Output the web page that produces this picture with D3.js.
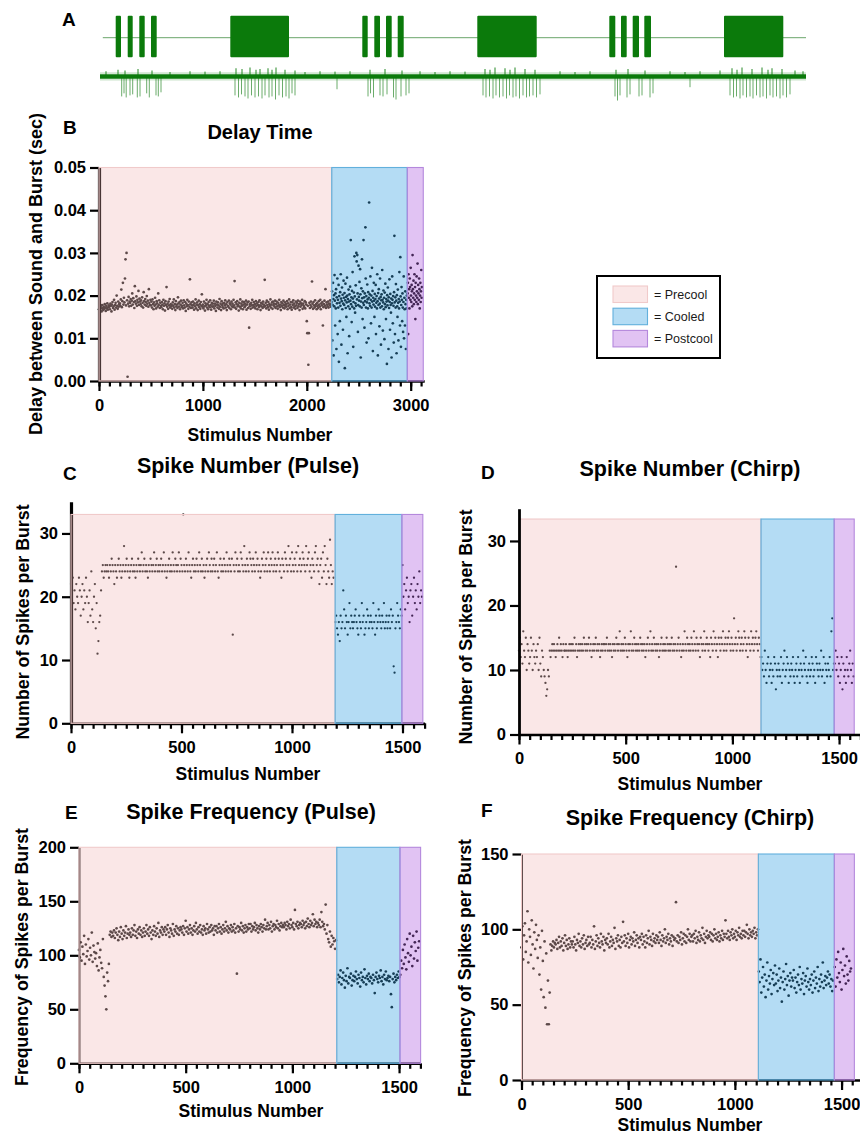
<!DOCTYPE html>
<html>
<head>
<meta charset="utf-8">
<script src="https://cdn.jsdelivr.net/npm/d3@7"></script>
<style>
  body { margin: 0; background: #fff; }
  svg { display: block; }
  text { font-family: "Liberation Sans", Arial, Helvetica, sans-serif; }
</style>
</head>
<body>
<svg id="fig" width="860" height="1137"></svg>
<script>
// ---------- Panel A: stimulus and recording trace (time in ms) ----------
const traceDuration = [0, 7060];
const pulseTrains = [
  [[157, 210], [277, 327], [393, 447], [510, 567]],
  [[2623, 2677], [2743, 2800], [2860, 2917], [2977, 3037]],
  [[5093, 5153], [5210, 5267], [5327, 5390], [5443, 5510]]
];
const chirpBlocks = [[1303, 1890], [3773, 4367], [6240, 6833]];
// spike events: [time ms, relative amplitude]
const spikeEvents = [
  [217,.85],[240,.7],[262,.9],[300,.8],[327,.75],[373,.9],[400,.85],[467,.7],[493,.9],[560,.8],[583,.85],[610,.65],
  [1350,.8],[1385,.9],[1415,.75],[1450,.85],[1480,.95],[1515,.8],[1550,.9],[1585,.85],[1620,.95],[1650,.8],[1690,.9],[1720,.85],[1755,1],[1790,.8],[1825,.9],[1860,.85],[1890,.95],[1920,.7],[1950,.8],
  [2370,.5],
  [2680,.85],[2705,.7],[2735,.9],[2800,.8],[2830,.85],[2870,.75],[2935,.9],[2960,1],[3010,.85],[3060,.8],[3090,.7],
  [3830,.8],[3860,.9],[3895,.85],[3930,.95],[3960,.8],[3995,.9],[4030,.85],[4065,.95],[4095,.8],[4130,.9],[4160,.85],[4195,.95],[4230,.8],[4265,.9],[4295,.85],[4330,.8],[4365,.9],[4400,.75],
  [5150,.85],[5175,1.05],[5200,.8],[5270,.9],[5300,.75],[5390,.85],[5420,.8],[5500,.9],[5530,.7],
  [5900,.4],
  [6300,.8],[6335,.9],[6365,.85],[6400,.95],[6430,.8],[6465,.9],[6500,.85],[6530,.95],[6565,.8],[6600,.9],[6630,.85],[6665,.95],[6700,.8],[6730,.9],[6765,.85],[6800,.95],[6830,.8],[6865,.9],[6900,.75]
];
// small upward deflections of the recording: [time ms, relative amplitude]
const noiseBumps = [
  [60,.3],[180,.5],[250,.4],[380,.6],[520,.4],[700,.2],[900,.3],[1050,.25],[1200,.3],[1360,.7],[1420,.6],[1500,.8],[1560,.5],[1600,.6],[1680,.7],[1720,.5],[1760,.8],[1850,.5],[1950,.4],
  [2050,.2],[2200,.3],[2350,.25],[2500,.3],[2700,.5],[2850,.6],[3020,.4],[3200,.3],[3350,.2],[3500,.3],[3650,.25],[3850,.6],[3900,.5],[3950,.8],[4050,.7],[4100,.5],[4150,.8],[4250,.6],[4350,.5],[4600,.3],
  [4750,.2],[4900,.3],[5160,.5],[5280,.6],[5450,.4],[5700,.3],[5850,.2],[6000,.3],[6200,.4],[6320,.7],[6370,.5],[6420,.8],[6520,.6],[6620,.8],[6680,.5],[6720,.7],[6820,.6],[6950,.4],[7030,.3]
];

// ---------- Panel B: delay between sound and burst (units of 0.1 ms) ----------
const bPhases = [[0, 2240], [2240, 2967], [2967, 3121]];
const bYTicks = [0, 0.01, 0.02, 0.03, 0.04, 0.05];
const bXTicks = [0, 1000, 2000, 3000];
const bPrecool = [ // stimulus 0..2235, every 5th
  168,172,165,175,170,163,178,171,166,174,169,180,172,164,176,170,182,167,173,177,
  174,168,181,176,163,179,185,171,175,190,167,178,183,172,200,176,169,186,174,180,
  182,176,191,214,173,187,230,179,195,184,240,285,177,300,189,10,181,197,175,186,
  183,192,176,188,205,179,194,185,171,222,187,181,198,176,190,184,211,178,193,186,
  180,189,175,196,183,172,208,187,179,192,185,176,199,181,188,174,215,183,178,190,
  177,186,172,191,180,168,184,176,195,179,170,187,182,174,205,178,189,171,183,176,
  173,185,179,168,190,176,182,165,187,178,220,174,181,169,186,177,192,172,180,175,
  178,169,184,176,191,172,180,166,187,175,179,171,196,182,174,185,168,179,188,173,
  176,183,170,189,177,172,185,164,181,175,190,178,169,186,174,238,180,171,184,177,
  172,186,178,167,182,175,191,170,179,184,166,177,188,173,180,169,185,176,203,174,
  179,170,186,175,165,182,177,190,172,180,168,185,176,173,189,178,167,183,174,181,
  175,188,170,181,176,164,186,179,172,184,177,169,192,174,181,166,187,178,173,182,
  170,183,177,189,172,180,166,185,176,174,188,171,182,179,168,186,175,181,173,190,
  177,234,172,184,169,180,187,175,178,165,183,174,191,170,181,176,186,168,179,185,
  173,181,176,188,167,179,184,171,186,125,175,180,169,183,177,190,172,178,185,174,
  180,170,187,176,182,168,178,185,173,189,177,166,183,175,181,171,186,179,174,237,
  176,183,170,188,178,173,185,167,180,176,191,172,179,184,169,186,177,181,174,188,
  171,180,186,175,169,183,177,190,173,179,166,185,176,182,172,188,178,170,184,175,
  180,174,187,168,182,176,191,171,179,185,173,167,184,178,189,172,181,175,169,186,
  177,183,171,188,175,180,166,186,174,182,178,190,169,181,176,173,187,170,184,179,
  140,112,176,38,112,183,171,178,186,174,233,181,169,185,177,172,189,175,180,168,
  183,176,171,187,179,174,190,168,182,177,185,130,173,180,188,176,215,171,184,179,
  175,186,172,181,178,189,174,180
];
const bCooled = [ // stimulus 2240..2963, every 3rd
  185,210,95,178,230,192,60,201,175,248,188,130,205,170,215,75,196,182,240,110,
  190,172,225,45,199,183,140,208,176,250,193,85,187,219,168,202,120,181,235,195,
  178,206,30,189,228,171,197,150,184,242,200,65,192,175,214,186,105,203,169,221,
  188,330,180,196,138,211,174,255,193,80,185,207,170,292,198,160,182,224,176,300,
  280,191,295,205,115,178,270,197,188,232,175,262,203,55,186,217,172,285,194,145,
  210,183,330,178,196,125,205,187,360,240,172,199,90,184,226,191,170,208,100,195,
  418,182,203,176,245,190,135,200,172,265,186,211,70,195,179,230,188,150,204,174,
  192,225,110,183,199,170,250,187,60,206,178,215,193,128,181,240,172,197,85,189,
  203,175,260,190,118,184,212,168,195,98,207,180,228,173,145,192,186,40,201,177,
  219,188,75,196,171,238,185,120,204,178,160,193,55,182,245,190,135,199,176,90,
  208,340,184,110,196,172,227,188,65,201,175,150,214,183,95,192,170,255,186,130,
  290,198,80,178,220,190,140,205,172,115,185,245,100,195,168,130,210,180,75,190,
  170,200
];
const bPostcool = [ // stimulus 2970..3108, every 3rd
  205,230,110,250,195,215,170,240,220,190,265,200,185,225,210,175,295,215,195,235,
  180,205,250,190,220,145,230,200,185,245,210,195,275,180,225,205,190,240,215,170,
  200,230,185,210,260,195,220
];

// ---------- Panel C: spikes per burst, pulse ----------
const cPhases = [[0, 1195], [1195, 1497], [1497, 1592]];
const cYTicks = [0, 10, 20, 30];
const cPrecool = [ // stimulus 0..1188, every 4th
  22,20,23,19,21,18,22,20,19,23,21,17,20,22,18,21,19,23,20,16,
  19,21,17,24,18,16,20,22,15,19,11,13,16,17,21,24,25,23,24,25,
  24,25,24,23,25,24,26,25,24,22,25,24,23,25,26,24,25,23,24,25,
  28,24,25,26,24,25,23,24,25,26,24,25,24,23,25,24,26,25,24,25,
  27,24,25,26,24,25,24,23,25,24,26,25,24,25,27,24,25,26,24,25,
  24,25,26,24,25,27,24,25,23,24,25,26,24,25,24,27,25,24,26,25,
  24,25,27,24,26,25,24,33,25,24,26,25,24,27,25,24,23,25,26,24,
  25,24,26,25,24,27,25,24,26,24,25,23,24,25,26,24,27,25,24,26,
  24,25,26,24,25,27,24,23,25,26,24,25,24,26,25,24,27,25,24,26,
  25,24,26,14,25,24,27,25,26,24,25,24,27,26,25,24,28,25,24,26,
  25,24,27,26,25,24,26,25,24,27,25,26,24,25,23,24,26,25,27,24,
  25,26,24,27,25,24,26,25,27,24,25,26,24,25,27,26,24,25,23,26,
  25,24,27,26,25,24,28,25,26,24,27,25,24,26,25,27,24,28,25,26,
  24,25,27,26,25,24,28,25,26,27,24,25,23,26,25,24,27,28,25,26,
  24,22,25,26,23,27,24,28,25,22,26,24,23,29,25,22,24,23
];
const cCooled = [ // stimulus 1196..1496, every 4th
  16,17,15,14,16,13,17,15,16,21,18,15,17,16,14,16,19,15,17,16,
  15,16,17,18,16,15,14,17,16,15,19,16,17,14,15,16,18,17,15,16,
  17,16,15,19,16,14,17,15,16,18,17,16,15,17,16,19,15,16,17,15,
  16,17,15,18,16,17,9,8,15,16,19,17,16,15,18,17
];
const cPostcool = [ // stimulus 1500..1588, every 4th
  25,20,22,18,21,23,19,20,16,21,22,17,20,23,19,21,18,22,20,24,19,21,20
];

// ---------- Panel D: spikes per burst, chirp ----------
const dPhases = [[0, 1134], [1134, 1477], [1477, 1571]];
const dPrecool = [ // stimulus 0..1132, every 4th
  13,15,12,14,11,16,13,12,15,10,14,13,11,12,15,13,10,14,12,11,
  13,12,14,10,15,11,9,13,12,10,9,8,6,7,10,9,13,12,13,14,
  13,14,13,12,13,14,13,15,13,14,13,12,14,13,13,14,13,12,13,14,
  13,14,13,14,13,15,13,14,12,13,14,13,14,13,14,13,15,14,13,14,
  13,14,15,13,14,12,13,14,13,14,15,13,14,13,14,12,13,14,13,14,
  14,13,14,15,13,14,13,14,13,12,14,13,14,13,15,14,13,14,16,13,
  14,13,14,13,15,14,13,12,14,13,14,16,13,14,13,15,14,13,14,13,
  14,13,15,14,13,14,13,14,12,13,14,15,13,14,16,13,14,13,15,14,
  13,14,13,14,12,13,14,15,13,14,13,14,13,15,14,13,14,13,14,15,
  13,14,13,14,26,13,14,15,13,14,12,13,14,13,16,14,13,15,14,13,
  14,13,15,14,13,16,14,13,15,14,13,14,12,15,14,13,14,16,13,14,
  15,14,13,14,12,15,14,13,16,14,15,13,14,12,15,14,13,15,14,16,
  13,14,15,13,14,15,16,14,13,15,14,13,18,14,15,13,14,16,15,13,
  14,15,13,14,16,15,13,14,12,15,14,13,16,14,15,13,14,15,16,14,
  13,15,14,12
];
const dCooled = [ // stimulus 1136..1476, every 4th
  12,10,11,9,13,10,8,11,12,9,10,11,8,10,9,12,11,7,10,9,
  11,10,9,12,8,10,11,13,9,10,12,11,8,10,9,11,10,12,9,8,
  10,11,9,12,10,8,11,10,9,13,11,10,12,9,8,10,11,9,10,12,
  11,9,10,8,12,11,10,9,11,10,13,9,10,12,8,11,10,9,11,10,
  12,9,16,18,10,11
];
const dPostcool = [ // stimulus 1480..1568, every 4th
  11,13,10,12,9,11,8,10,12,7,11,9,10,8,12,10,9,11,13,10,8,11,9
];

// ---------- Panel E: spike frequency, pulse ----------
const ePhases = [[0, 1208], [1208, 1504], [1504, 1601]];
const eYTicks = [0, 50, 100, 150, 200];
const ePrecool = [ // stimulus 0..1204, every 4th
  105,98,112,95,108,101,118,92,110,99,104,115,96,107,100,121,94,109,103,97,
  102,90,111,86,98,105,93,88,115,80,72,62,50,84,76,92,119,122,117,121,
  118,123,116,121,125,119,114,122,117,126,120,115,123,118,121,127,116,120,124,119,
  121,117,125,119,123,128,118,122,116,124,120,126,119,123,117,121,125,118,122,128,
  120,124,118,126,121,115,123,119,127,122,118,125,120,130,117,123,121,126,119,124,
  122,126,119,124,128,121,117,125,123,120,129,118,124,122,127,120,125,119,123,126,
  124,121,127,119,125,132,122,126,120,124,128,121,125,119,123,127,122,130,124,120,
  126,122,128,121,124,119,127,123,125,120,129,124,121,126,122,128,123,125,119,127,
  123,127,121,125,129,122,126,120,124,128,122,125,131,123,127,121,125,124,128,122,
  126,123,129,121,125,83,127,122,126,124,130,123,127,121,125,128,122,126,124,129,
  125,129,122,127,124,126,130,123,128,125,121,127,124,129,126,122,128,125,133,124,
  127,130,124,128,125,131,122,127,129,124,128,126,132,125,129,123,127,130,126,128,
  126,130,128,124,131,127,129,125,133,128,126,130,124,142,129,127,131,125,128,130,
  129,126,132,128,130,125,131,127,134,129,126,132,128,130,138,127,133,129,131,126,
  130,128,133,126,140,131,127,129,124,147,120,128,115,112,122,108,118,110,116,113,
  106,114
];
const eCooled = [ // stimulus 1210..1502, every 4th
  78,82,75,80,86,73,79,84,77,70,81,76,88,74,80,79,83,72,77,81,
  76,80,85,78,74,82,79,71,84,77,80,75,87,79,73,81,78,83,76,80,
  79,74,82,77,65,80,84,78,75,81,79,86,76,80,73,82,78,85,77,79,
  81,76,80,64,52,78,83,75,80,77,82,79,85,80
];
const ePostcool = [ // stimulus 1506..1594, every 4th
  82,95,88,105,92,110,98,87,115,102,94,120,100,108,90,118,97,112,104,122,95,107,113
];

// ---------- Panel F: spike frequency, chirp ----------
const fPhases = [[0, 1110], [1110, 1466], [1466, 1560]];
const fYTicks = [0, 50, 100, 150];
const fPrecool = [ // stimulus 0..1108, every 4th
  88,102,80,96,104,85,92,112,78,100,95,83,106,90,74,98,87,103,93,81,
  96,70,88,60,99,79,55,92,48,84,37,66,37,58,90,86,89,92,88,91,
  90,93,87,91,95,88,92,89,94,86,91,96,89,93,87,90,94,88,92,90,
  92,88,95,90,86,93,91,97,89,92,88,94,90,96,87,91,93,89,95,90,
  91,95,88,93,90,102,87,92,96,89,94,91,88,97,92,90,95,86,93,91,
  94,90,97,88,92,95,89,93,91,101,87,94,92,96,89,93,88,95,91,105,
  92,96,89,94,91,97,88,93,95,90,94,92,98,89,93,96,91,94,88,95,
  93,97,90,95,92,88,96,91,94,99,90,95,93,89,97,92,94,91,96,93,
  95,91,98,93,89,96,92,94,100,91,95,93,97,90,94,92,96,89,95,93,
  94,118,92,96,91,95,93,98,90,94,97,92,96,91,95,100,93,97,92,95,
  96,92,97,94,99,91,95,93,98,92,96,94,101,93,97,91,95,99,94,96,
  95,98,93,97,92,96,100,94,97,93,95,98,92,96,94,99,93,97,95,106,
  97,94,99,95,93,98,96,100,94,97,95,99,93,98,96,101,95,97,94,99,
  96,99,95,98,103,97,94,100,96,98,95,99,97,101,94,98,96,100
];
const fCooled = [ // stimulus 1112..1460, every 4th
  72,65,80,58,68,75,62,70,55,66,78,60,69,64,73,57,67,71,63,76,
  64,70,59,66,74,61,68,52,65,72,60,67,77,63,69,56,66,71,62,68,
  66,73,61,68,58,65,70,63,75,60,67,64,71,57,66,69,62,74,65,60,
  67,63,70,58,66,72,61,68,64,75,59,67,62,70,65,78,61,66,69,63,
  68,72,64,70,62,67,59,66
];
const fPostcool = [ // stimulus 1468..1544, every 4th
  75,62,80,68,85,71,65,78,60,73,87,69,76,64,82,70,66,79,72,74
];

const xTicks1600 = [0, 500, 1000, 1500];
const phaseNames = ["= Precool", "= Cooled", "= Postcool"];

// ---------- styling ----------
const phaseFill = ["rgb(238,175,175)", "rgb(5,138,218)", "rgb(155,55,215)"];
const phaseStroke = ["#f0caca", "#62b0dc", "#b488dc"];
const phaseOpacity = 0.3;
const pointColor = "#1e1e1e";
const green = "#0b7a0b";

const svg = d3.select("#fig");

// ---------- Panel A ----------
(function drawTrace() {
  const tx = d3.scaleLinear().domain(traceDuration).range([100, 806]);
  const g = svg.append("g");
  g.append("text").attr("x", 62).attr("y", 26).attr("font-size", 19).attr("font-weight", "bold").text("A");
  // stimulus baseline
  g.append("line").attr("x1", tx(28)).attr("x2", tx(7060)).attr("y1", 37.7).attr("y2", 37.7)
    .attr("stroke", "#6aa66a").attr("stroke-width", 1);
  const blocks = pulseTrains.flat().concat(chirpBlocks);
  g.selectAll("rect.stim").data(blocks).join("rect").attr("class", "stim")
    .attr("x", d => tx(d[0])).attr("width", d => tx(d[1]) - tx(d[0]))
    .attr("y", 15.7).attr("height", 41.6).attr("rx", 1).attr("fill", green);
  // recording
  const amp = d3.scaleLinear().domain([0, 1]).range([79, 99.5]);
  g.selectAll("line.spk").data(spikeEvents).join("line").attr("class", "spk")
    .attr("x1", d => tx(d[0])).attr("x2", d => tx(d[0]))
    .attr("y1", 78).attr("y2", d => amp(d[1]))
    .attr("stroke", "#5aa35a").attr("stroke-width", 0.9);
  const up = d3.scaleLinear().domain([0, 1]).range([73.5, 66]);
  g.selectAll("line.bump").data(noiseBumps).join("line").attr("class", "bump")
    .attr("x1", d => tx(d[0])).attr("x2", d => tx(d[0]))
    .attr("y1", 75).attr("y2", d => up(d[1]))
    .attr("stroke", green).attr("stroke-width", 0.9);
  g.append("rect").attr("x", tx(0)).attr("width", tx(7060) - tx(0)).attr("y", 72.2).attr("height", 8.4)
    .attr("fill", green).attr("opacity", 0.18);
  g.append("rect").attr("x", tx(0)).attr("width", tx(7060) - tx(0)).attr("y", 74.3).attr("height", 4.4)
    .attr("fill", green);
})();

// ---------- scatter panels ----------
function drawPanel(p) {
  const x = d3.scaleLinear().domain(p.xDomain).range(p.xRange);
  const y = d3.scaleLinear().domain(p.yDomain).range(p.yRange);
  const g = svg.append("g");

  // points
  const pts = [];
  p.series.forEach(s => s.values.forEach((v, i) => pts.push([s.start + i * s.step, v * (s.scale || 1)])));
  g.append("g").selectAll("circle").data(pts).join("circle")
    .attr("cx", d => x(d[0])).attr("cy", d => y(d[1])).attr("r", p.r)
    .attr("fill", pointColor);

  function axes() {
    const ga = g.append("g");
    const yAxis = d3.axisLeft(y).tickValues(p.yTicks).tickSize(9).tickSizeOuter(0).tickPadding(4)
      .tickFormat(p.yFormat ? d3.format(p.yFormat) : d3.format("d"));
    const ya = ga.append("g").attr("transform", `translate(${p.xRange[0]},0)`).call(yAxis);
    const xMinor = d3.axisBottom(x).tickValues(p.xMinor).tickSize(5.5).tickSizeOuter(0).tickFormat("");
    const xm = ga.append("g").attr("transform", `translate(0,${p.yRange[0]})`).call(xMinor);
    xm.select(".domain").remove();
    const xAxis = d3.axisBottom(x).tickValues(p.xTicks).tickSize(10).tickSizeOuter(0).tickPadding(8)
      .tickFormat(d3.format("d"));
    ga.append("g").attr("transform", `translate(0,${p.yRange[0]})`).call(xAxis);
    ga.selectAll(".domain").attr("stroke", "#000").attr("stroke-width", p.axisW);
    ya.select(".domain").attr("stroke-width", p.yAxisW);
    ga.selectAll(".tick line").attr("stroke", "#000").attr("stroke-width", 2.2);
    ga.selectAll(".tick text").attr("font-size", 16.5).attr("font-weight", "bold").attr("fill", "#000")
      .attr("font-family", '"Liberation Sans", Arial, sans-serif');
  }
  if (!p.axisOnTop) axes();

  // treatment phases overlaid on the data
  g.append("g").selectAll("rect").data(p.phases).join("rect")
    .attr("x", d => x(d[0])).attr("width", d => x(d[1]) - x(d[0]))
    .attr("y", y(p.top)).attr("height", y(0) - y(p.top))
    .attr("fill", (d, i) => phaseFill[i]).attr("fill-opacity", phaseOpacity)
    .attr("stroke", (d, i) => phaseStroke[i]).attr("stroke-width", 1.1);

  if (p.axisOnTop) axes();

  const bold = sel => sel.attr("font-weight", "bold").attr("fill", "#000");
  bold(g.append("text").attr("x", p.letter[0]).attr("y", p.letter[1]).attr("font-size", 19).text(p.id));
  bold(g.append("text").attr("x", p.title[0]).attr("y", p.title[1]).attr("text-anchor", "middle")
    .attr("font-size", p.titleSize).text(p.titleText));
  bold(g.append("text").attr("x", p.xTitle[0]).attr("y", p.xTitle[1]).attr("text-anchor", "middle")
    .attr("font-size", 17.5).text("Stimulus Number"));
  bold(g.append("text").attr("transform", `translate(${p.yTitle[0]},${p.yTitle[1]}) rotate(-90)`)
    .attr("text-anchor", "middle").attr("font-size", p.yTitleSize).text(p.yTitleText));
}

const minor1600 = d3.range(0, 1601, 50);

drawPanel({
  id: "B", titleText: "Delay Time", yTitleText: "Delay between Sound and Burst (sec)", titleSize: 20,
  xDomain: [0, 3130], xRange: [99, 424.2], yDomain: [0, 0.05], yRange: [381, 167.5],
  yTicks: bYTicks, yFormat: ".2f", xTicks: bXTicks, xMinor: d3.range(0, 3101, 100),
  phases: bPhases, top: 0.05, r: 1.35, axisW: 2.5, yAxisW: 3.2, axisOnTop: false,
  series: [
    { start: 0, step: 5, values: bPrecool, scale: 1e-4 },
    { start: 2240, step: 3, values: bCooled, scale: 1e-4 },
    { start: 2970, step: 3, values: bPostcool, scale: 1e-4 }
  ],
  letter: [63, 134], title: [260, 139], xTitle: [260, 441], yTitle: [42, 274], yTitleSize: 18
});

drawPanel({
  id: "C", titleText: "Spike Number (Pulse)", yTitleText: "Number of Spikes per Burst", titleSize: 21.5,
  xDomain: [0, 1600], xRange: [71, 424.6], yDomain: [0, 35], yRange: [723.3, 501.8],
  yTicks: cYTicks, xTicks: xTicks1600, xMinor: minor1600,
  phases: cPhases, top: 33, r: 1.15, axisW: 2.8, yAxisW: 3.2, axisOnTop: false,
  series: [
    { start: 0, step: 4, values: cPrecool },
    { start: 1196, step: 4, values: cCooled },
    { start: 1500, step: 4, values: cPostcool }
  ],
  letter: [63, 480], title: [248, 473], xTitle: [248, 780], yTitle: [28.5, 622], yTitleSize: 17.8
});

drawPanel({
  id: "D", titleText: "Spike Number (Chirp)", yTitleText: "Number of Spikes per Burst", titleSize: 21.5,
  xDomain: [0, 1600], xRange: [519, 860.4], yDomain: [0, 35], yRange: [734.5, 508.7],
  yTicks: cYTicks, xTicks: xTicks1600, xMinor: minor1600,
  phases: dPhases, top: 33.4, r: 1.15, axisW: 2.5, yAxisW: 2.8, axisOnTop: true,
  series: [
    { start: 0, step: 4, values: dPrecool },
    { start: 1136, step: 4, values: dCooled },
    { start: 1480, step: 4, values: dPostcool }
  ],
  letter: [481, 479], title: [690, 476], xTitle: [690, 790], yTitle: [471.5, 627], yTitleSize: 17.8
});

drawPanel({
  id: "E", titleText: "Spike Frequency (Pulse)", yTitleText: "Frequency of Spikes per Burst", titleSize: 21.5,
  xDomain: [0, 1600], xRange: [79, 420.4], yDomain: [0, 200], yRange: [1063.3, 847.3],
  yTicks: eYTicks, xTicks: xTicks1600, xMinor: minor1600,
  phases: ePhases, top: 200, r: 1.35, axisW: 2.5, yAxisW: 1.8, axisOnTop: false,
  series: [
    { start: 0, step: 4, values: ePrecool },
    { start: 1210, step: 4, values: eCooled },
    { start: 1506, step: 4, values: ePostcool }
  ],
  letter: [65, 819], title: [251, 819], xTitle: [251, 1117], yTitle: [27.5, 957], yTitleSize: 17.8
});

drawPanel({
  id: "F", titleText: "Spike Frequency (Chirp)", yTitleText: "Frequency of Spikes per Burst", titleSize: 21.5,
  xDomain: [0, 1600], xRange: [521.5, 862.9], yDomain: [0, 150], yRange: [1080, 854],
  yTicks: fYTicks, xTicks: xTicks1600, xMinor: minor1600,
  phases: fPhases, top: 150, r: 1.35, axisW: 2.5, yAxisW: 1.8, axisOnTop: false,
  series: [
    { start: 0, step: 4, values: fPrecool },
    { start: 1112, step: 4, values: fCooled },
    { start: 1468, step: 4, values: fPostcool }
  ],
  letter: [481, 817], title: [690, 825], xTitle: [690, 1131], yTitle: [470.5, 968], yTitleSize: 17.8
});

// ---------- legend ----------
(function legend() {
  const g = svg.append("g");
  g.append("rect").attr("x", 597).attr("y", 276).attr("width", 123).attr("height", 82)
    .attr("fill", "#fff").attr("stroke", "#000").attr("stroke-width", 2);
  const rows = g.selectAll("g.row").data(phaseNames).join("g").attr("class", "row")
    .attr("transform", (d, i) => `translate(0,${286 + i * 22.2})`);
  rows.append("rect").attr("x", 613).attr("width", 34.5).attr("height", 16.5)
    .attr("fill", (d, i) => phaseFill[i]).attr("fill-opacity", phaseOpacity)
    .attr("stroke", (d, i) => phaseStroke[i]).attr("stroke-width", 1.1);
  rows.append("text").attr("x", 654).attr("y", 13).attr("font-size", 12.5)
    .attr("font-family", "Lato, 'Open Sans', sans-serif").attr("fill", "#1a1a1a").text(d => d);
})();
</script>
</body>
</html>
